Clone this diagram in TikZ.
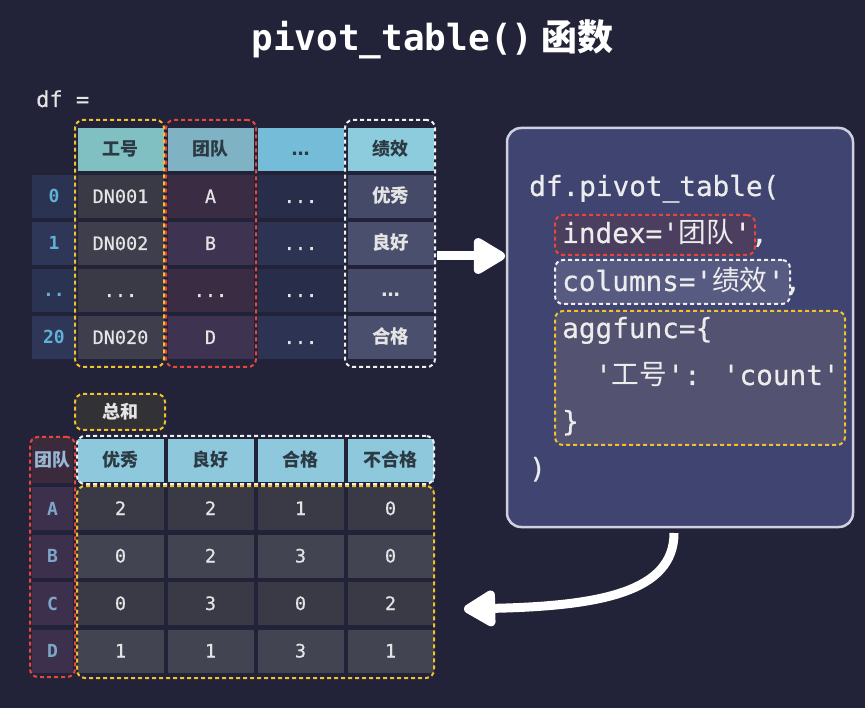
\documentclass[tikz,border=0pt]{standalone}
\usepackage{fontspec}
\setmonofont{DejaVu Sans Mono}
\newfontfamily\monom{DejaVu Sans Mono}[FakeBold=0.5]
\newfontfamily\cjk{Noto Sans CJK SC}
\newfontfamily\dvsans{DejaVu Sans}
\usetikzlibrary{arrows.meta}
\newcommand\zhtxt[1]{{\cjk #1}}
\newcommand\zhb[1]{{\cjk\bfseries #1}}
\newcommand\myell{{\dvsans\bfseries …}}
\definecolor{bgc}{HTML}{222338}
\definecolor{hc1}{HTML}{80C0C2}
\definecolor{hc2}{HTML}{7FB3C4}
\definecolor{hc3}{HTML}{74BCD8}
\definecolor{hc4}{HTML}{8CCCDD}
\definecolor{hcb}{HTML}{8EC8DC}
\definecolor{idxA}{HTML}{2B3352}
\definecolor{idxB}{HTML}{2E3758}
\definecolor{c1A}{HTML}{3A3A47}
\definecolor{c1B}{HTML}{3E3E4C}
\definecolor{c2A}{HTML}{392C43}
\definecolor{c2B}{HTML}{3E3350}
\definecolor{c3A}{HTML}{282D4A}
\definecolor{c3B}{HTML}{2D3352}
\definecolor{c4A}{HTML}{454A68}
\definecolor{c4B}{HTML}{4A4F6E}
\definecolor{bodyA}{HTML}{393A46}
\definecolor{bodyB}{HTML}{424452}
\definecolor{bidxH}{HTML}{3A2A3C}
\definecolor{bidx}{HTML}{3D304D}
\definecolor{sumfill}{HTML}{323236}
\definecolor{celltxt}{HTML}{E4E4E4}
\definecolor{headtxt}{HTML}{2C3A44}
\definecolor{idxtxt}{HTML}{62B0D4}
\definecolor{bidxtxt}{HTML}{7EA6C8}
\definecolor{dyel}{HTML}{F2C12E}
\definecolor{dred}{HTML}{E8453C}
\definecolor{dwhite}{HTML}{F0F0F0}
\definecolor{codefill}{HTML}{3F4470}
\definecolor{codeline}{HTML}{CFD1E0}
\definecolor{codetxt}{HTML}{ECECEC}
\definecolor{redin}{HTML}{4B3E5E}
\definecolor{whitein}{HTML}{575B82}
\definecolor{yelin}{HTML}{535270}
\begin{document}
\begin{tikzpicture}[x=1pt,y=-1pt,
  cell/.style={minimum width=86pt, minimum height=43pt, inner sep=0pt,
    text height=13pt, text depth=0pt, text=celltxt,
    font=\fontsize{18.5}{20}\selectfont\monom},
  head/.style={cell, text=headtxt, font=\fontsize{18}{20}\selectfont\ttfamily\bfseries},
  idxcell/.style={cell, minimum width=44pt, text=idxtxt, font=\fontsize{18}{20}\selectfont\ttfamily\bfseries},
  dbox/.style={draw, line width=2pt, dash pattern=on 4pt off 3pt, rounded corners=8pt, inner sep=0pt},
  ybox/.style={dbox, draw=dyel},
  rbox/.style={dbox, draw=dred},
  wbox/.style={dbox, draw=dwhite},
  codetext/.style={anchor=base west, inner sep=0pt, text=codetxt, font=\fontsize{27.7}{30}\selectfont\monom},
  bigarrow/.style={draw=white, line width=9pt, -{Triangle[length=36pt,width=40pt,round]}}
]
\fill[bgc] (0,0) rectangle (865,708);
\useasboundingbox (0,0) rectangle (865,708);

% title
\node[anchor=base, inner sep=0pt, text=white, font=\fontsize{36}{40}\selectfont\ttfamily\bfseries] (title) at (432.5,51) {pivot\_table()\hspace{8pt}\zhtxt{函数}};
\node[anchor=base west, inner sep=0pt, text=celltxt, font=\fontsize{22}{24}\selectfont\monom] (dflabel) at (36,107) {df =};

% ---------- top table ----------
\node[head, fill=hc1] (th1) at (120.5,149.5) {\zhtxt{工号}};
\node[head, fill=hc2] (th2) at (210.5,149.5) {\zhtxt{团队}};
\node[head, fill=hc3] (th3) at (300.5,149.5) {\myell};
\node[head, fill=hc4] (th4) at (390.5,149.5) {\zhtxt{绩效}};

\node[idxcell, fill=idxA] (ti0) at (54,196.5) {0};
\node[idxcell, fill=idxB] (ti1) at (54,243.5) {1};
\node[idxcell, fill=idxA] (ti2) at (54,290.5) {..};
\node[idxcell, fill=idxB] (ti3) at (54,337.5) {20};

\node[cell, fill=c1A] (t10) at (120.5,196.5) {DN001};
\node[cell, fill=c1B] (t11) at (120.5,243.5) {DN002};
\node[cell, fill=c1A] (t12) at (120.5,290.5) {...};
\node[cell, fill=c1B] (t13) at (120.5,337.5) {DN020};

\node[cell, fill=c2A] (t20) at (210.5,196.5) {A};
\node[cell, fill=c2B] (t21) at (210.5,243.5) {B};
\node[cell, fill=c2A] (t22) at (210.5,290.5) {...};
\node[cell, fill=c2B] (t23) at (210.5,337.5) {D};

\node[cell, fill=c3A] (t30) at (300.5,196.5) {...};
\node[cell, fill=c3B] (t31) at (300.5,243.5) {...};
\node[cell, fill=c3A] (t32) at (300.5,290.5) {...};
\node[cell, fill=c3B] (t33) at (300.5,337.5) {...};

\node[cell, fill=c4A] (t40) at (390.5,196.5) {\zhb{优秀}};
\node[cell, fill=c4B] (t41) at (390.5,243.5) {\zhb{良好}};
\node[cell, fill=c4A] (t42) at (390.5,290.5) {\myell};
\node[cell, fill=c4B] (t43) at (390.5,337.5) {\zhb{合格}};

\node[ybox, minimum width=89pt, minimum height=247pt] (tybox) at (119.5,243.5) {};
\node[rbox, minimum width=90pt, minimum height=247pt] (trbox) at (211,243.5) {};
\node[wbox, minimum width=90pt, minimum height=247pt] (twbox) at (390,243.5) {};

% ---------- bottom table ----------
\node[ybox, fill=sumfill, minimum width=90pt, minimum height=36pt, text=celltxt, font=\fontsize{18}{20}\selectfont\bfseries] (sumbox) at (120,412) {\zhtxt{总和}};

\node[head, fill=hcb] (bh1) at (120.5,460.5) {\zhtxt{优秀}};
\node[head, fill=hcb] (bh2) at (210.5,460.5) {\zhtxt{良好}};
\node[head, fill=hcb] (bh3) at (300.5,460.5) {\zhtxt{合格}};
\node[head, fill=hcb] (bh4) at (390.5,460.5) {\zhtxt{不合格}};

\node[idxcell, fill=bidxH, minimum width=41pt, minimum height=45pt, text=bidxtxt!80!white] (bih) at (52.5,460) {\zhtxt{团队}};
\node[idxcell, fill=bidx, minimum width=41pt, text=bidxtxt] (biA) at (52.5,508.5) {A};
\node[idxcell, fill=bidx, minimum width=41pt, text=bidxtxt] (biB) at (52.5,556) {B};
\node[idxcell, fill=bidx, minimum width=41pt, text=bidxtxt] (biC) at (52.5,603.5) {C};
\node[idxcell, fill=bidx, minimum width=41pt, text=bidxtxt] (biD) at (52.5,651) {D};

\node[cell, fill=bodyA] (bA1) at (120.5,508.5) {2};
\node[cell, fill=bodyA] (bA2) at (210.5,508.5) {2};
\node[cell, fill=bodyA] (bA3) at (300.5,508.5) {1};
\node[cell, fill=bodyA] (bA4) at (390.5,508.5) {0};

\node[cell, fill=bodyB] (bB1) at (120.5,556) {0};
\node[cell, fill=bodyB] (bB2) at (210.5,556) {2};
\node[cell, fill=bodyB] (bB3) at (300.5,556) {3};
\node[cell, fill=bodyB] (bB4) at (390.5,556) {0};

\node[cell, fill=bodyA] (bC1) at (120.5,603.5) {0};
\node[cell, fill=bodyA] (bC2) at (210.5,603.5) {3};
\node[cell, fill=bodyA] (bC3) at (300.5,603.5) {0};
\node[cell, fill=bodyA] (bC4) at (390.5,603.5) {2};

\node[cell, fill=bodyB] (bD1) at (120.5,651) {1};
\node[cell, fill=bodyB] (bD2) at (210.5,651) {1};
\node[cell, fill=bodyB] (bD3) at (300.5,651) {3};
\node[cell, fill=bodyB] (bD4) at (390.5,651) {1};

\node[wbox, minimum width=357pt, minimum height=48pt] (bwbox) at (255.5,460) {};
\node[ybox, minimum width=357pt, minimum height=192pt] (bybox) at (255.5,582) {};
\node[rbox, minimum width=45pt, minimum height=240pt] (brbox) at (52.5,557) {};

% ---------- code box ----------
\node[draw=codeline, fill=codefill, line width=2.5pt, rounded corners=14pt, minimum width=346pt, minimum height=399pt, inner sep=0pt] (code) at (680,327.5) {};
\node[rbox, fill=redin, minimum width=200pt, minimum height=40pt] (cidx) at (655,235) {};
\node[wbox, fill=whitein, minimum width=235pt, minimum height=44pt] (ccol) at (672.5,282) {};
\node[ybox, fill=yelin, minimum width=290pt, minimum height=134pt] (cagg) at (700,378) {};

\node[codetext] (l1) at (529,196) {df.pivot\_table(};
\node[codetext] (l2) at (562,243) {index='\zhtxt{团队}',};
\node[codetext] (l3) at (562,291) {columns='\zhtxt{绩效}',};
\node[codetext] (l4) at (562,338) {aggfunc=\{};
\node[codetext] (l5) at (595,385) {'\zhtxt{工号}': 'count'};
\node[codetext] (l6) at (562,431) {\}};
\node[codetext] (l7) at (529,478) {)};

% ---------- arrows ----------
\coordinate (a1s) at (437,256);
\coordinate (a1e) at (505,256);
\draw[bigarrow] (a1s) -- (a1e);
\coordinate (a2s) at (674,533);
\coordinate (a2e) at (464,609);
\draw[bigarrow] (a2s) .. controls (674,592) and (600,606) .. (a2e);
\end{tikzpicture}
\end{document}
